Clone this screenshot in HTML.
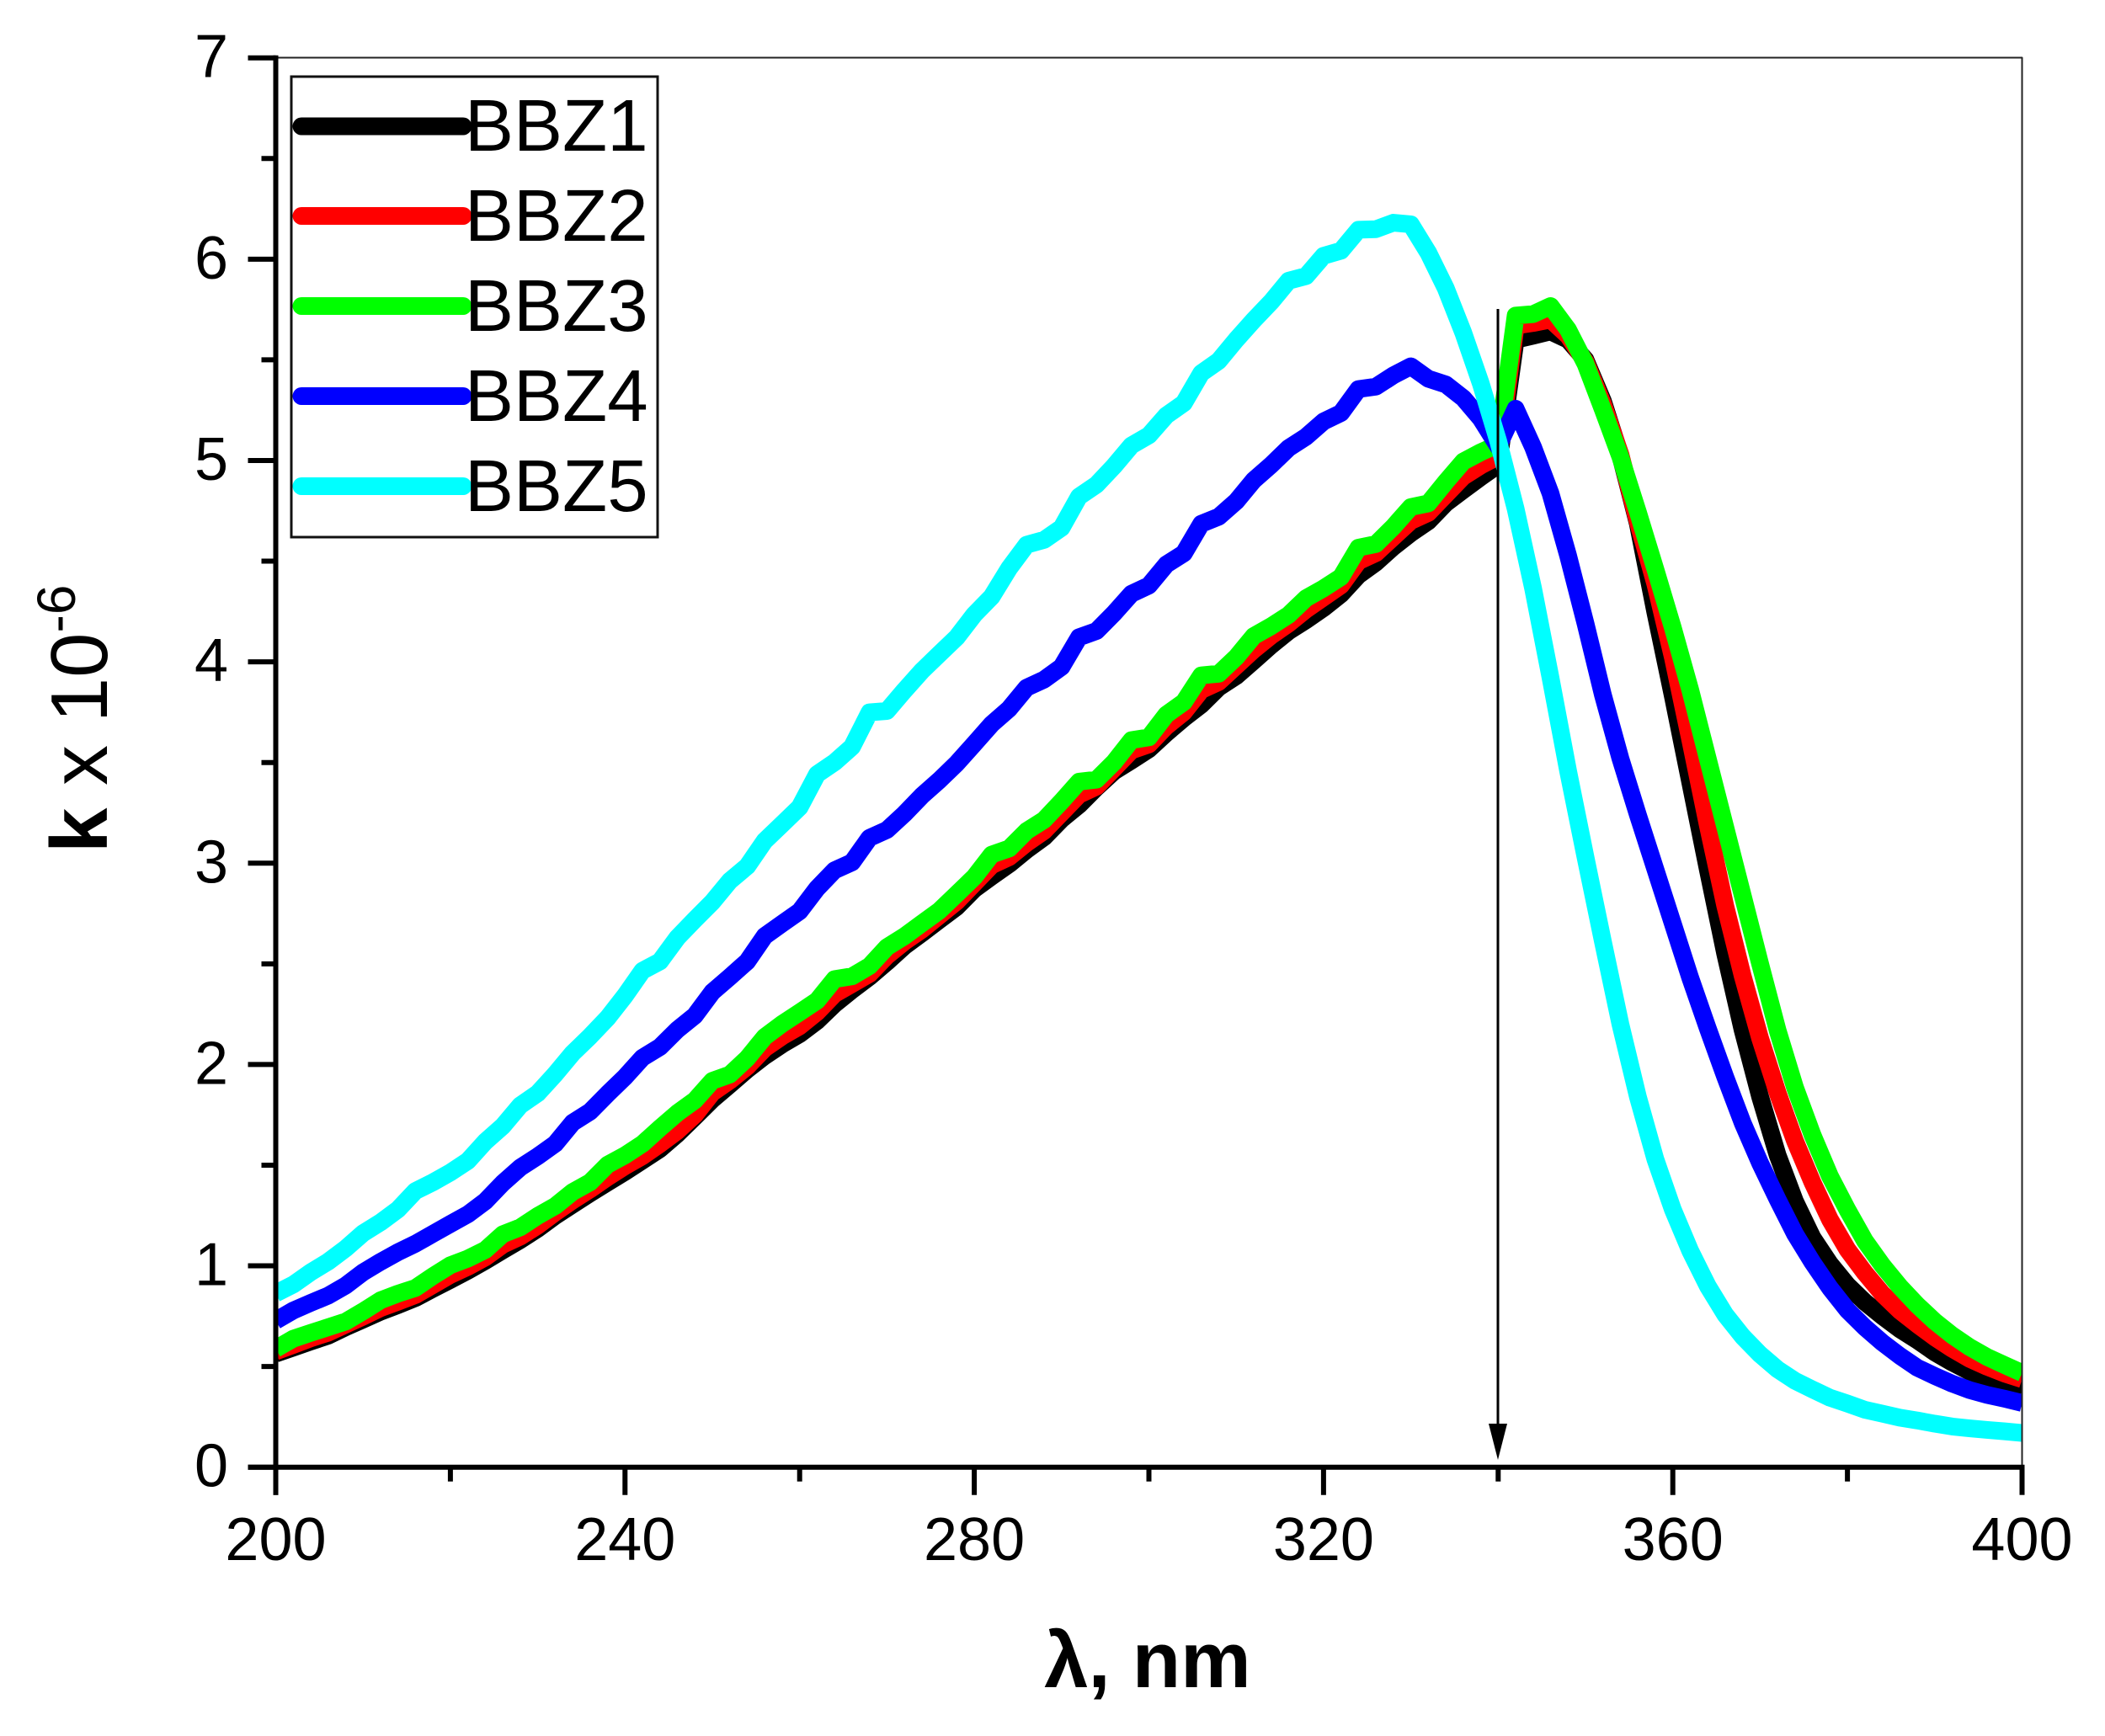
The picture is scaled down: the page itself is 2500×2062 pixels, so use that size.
<!DOCTYPE html>
<html lang="en">
<head>
<meta charset="utf-8">
<title>k vs wavelength for BBZ1-BBZ5</title>
<style>
  html, body { margin: 0; padding: 0; background: #fff; }
  svg { display: block; font-family: "Liberation Sans", Arial, sans-serif; }
</style>
</head>
<body>
<svg id="chart" xmlns="http://www.w3.org/2000/svg" width="2500" height="2062" viewBox="0 0 2500 2062">
  <defs>
    <clipPath id="plot-clip"><rect x="327.5" y="69" width="2074" height="1674"/></clipPath>
  </defs>
  <rect x="0" y="0" width="2500" height="2062" fill="#fff"/>
  <g id="series-layer" clip-path="url(#plot-clip)"></g>
  <line x1="327" y1="68.5" x2="2402" y2="68.5" stroke="#222" stroke-width="2"/>
  <line x1="2401.5" y1="68" x2="2401.5" y2="1743" stroke="#222" stroke-width="2"/>
  <g id="axis-layer"></g>

  <g>
    <line x1="1779" y1="367" x2="1779" y2="1700" stroke="#000" stroke-width="3"/>
    <polygon points="1768,1691 1790,1691 1779,1734" fill="#000"/>
  </g>

  <g>
    <rect x="346" y="91" width="435" height="547" fill="none" stroke="#111" stroke-width="3"/>
    <g>
      <line x1="358" y1="150" x2="550" y2="150" stroke="#000" stroke-width="21" stroke-linecap="round"/>
      <text x="552" y="179" font-size="87">BBZ1</text>
    </g>
    <g>
      <line x1="358" y1="256.5" x2="550" y2="256.5" stroke="#ff0000" stroke-width="21" stroke-linecap="round"/>
      <text x="552" y="286" font-size="87">BBZ2</text>
    </g>
    <g>
      <line x1="358" y1="363.5" x2="550" y2="363.5" stroke="#00ff00" stroke-width="21" stroke-linecap="round"/>
      <text x="552" y="393" font-size="87">BBZ3</text>
    </g>
    <g>
      <line x1="358" y1="470.5" x2="550" y2="470.5" stroke="#0000ff" stroke-width="21" stroke-linecap="round"/>
      <text x="552" y="500" font-size="87">BBZ4</text>
    </g>
    <g>
      <line x1="358" y1="577.5" x2="550" y2="577.5" stroke="#00ffff" stroke-width="21" stroke-linecap="round"/>
      <text x="552" y="607" font-size="87">BBZ5</text>
    </g>
  </g>

  <text x="1363" y="2004" font-size="94" font-weight="bold" text-anchor="middle">λ, nm</text>
  <text transform="translate(127,1013) rotate(-90)" font-size="96"><tspan font-weight="bold">k</tspan><tspan> x 10</tspan><tspan font-size="64" dy="-38">-6</tspan></text>
</svg>

<script>
const wavelengths = [200,202,204,206,208,210,212,214,216,218,220,222,224,226,228,230,232,234,236,238,240,242,244,246,248,250,252,254,256,258,260,262,264,266,268,270,272,274,276,278,280,282,284,286,288,290,292,294,296,298,300,302,304,306,308,310,312,314,316,318,320,322,324,326,328,330,332,334,336,338,340,342,344,346,348,350,352,354,356,358,360,362,364,366,368,370,372,374,376,378,380,382,384,386,388,390,392,394,396,398,400];

const bbz1 = [.564,.594,.624,.653,.695,.733,.772,.805,.840,.886,.930,.976,1.025,1.077,1.128,1.184,1.248,1.304,1.360,1.414,1.467,1.523,1.58,1.655,1.74,
1.826,1.90,1.975,2.042,2.100,2.151,2.216,2.300,2.370,2.435,2.509,2.588,2.652,2.718,2.783,2.871,2.934,2.995,3.066,3.129,3.218,3.289,3.376,3.456,3.510,
3.566,3.646,3.720,3.787,3.873,3.929,4.005,4.082,4.152,4.207,4.267,4.336,4.430,4.493,4.571,4.639,4.698,4.788,4.853,4.917,4.978,
5.60,5.62,5.641,5.60,5.50,5.295,5.024,4.685,4.246,3.83,3.40,2.97,2.55,2.17,1.84,1.55,1.32,1.14,1.01,.904,.82,.75,.685,.63,.57,.52,.475,.44,.41,.38];

const bbz2 = [.575,.607,.640,.668,.708,.748,.790,.822,.855,.905,.955,.995,1.042,1.105,1.145,1.200,1.265,1.325,1.380,1.440,1.495,1.545,1.605,1.670,1.750,
1.86,1.92,1.99,2.08,2.14,2.19,2.26,2.35,2.40,2.45,2.54,2.61,2.67,2.74,2.81,2.90,2.99,3.03,3.10,3.16,3.25,3.34,3.38,3.47,3.56,
3.59,3.68,3.75,3.86,3.90,3.98,4.06,4.13,4.19,4.26,4.32,4.38,4.50,4.54,4.62,4.70,4.74,4.83,4.92,4.975,5.02,
5.67,5.683,5.70,5.62,5.49,5.28,5.03,4.695,4.386,4.023,3.612,3.19,2.789,2.44,2.13,1.86,1.62,1.414,1.23,1.081,.965,.861,.777,.709,.645,.588,.538,.499,.465,.437];

const bbz3 = [.588,.638,.667,.695,.723,.774,.829,.862,.890,.949,1.003,1.036,1.079,1.157,1.191,1.248,1.297,1.367,1.415,1.502,1.549,1.606,1.684,1.759,1.822,
1.919,1.950,2.031,2.137,2.202,2.259,2.317,2.424,2.438,2.489,2.583,2.637,2.701,2.764,2.847,2.931,3.043,3.073,3.160,3.215,3.307,3.405,3.415,3.501,3.611,
3.625,3.738,3.800,3.933,3.941,4.023,4.128,4.177,4.233,4.316,4.365,4.421,4.567,4.585,4.671,4.769,4.787,4.894,4.995,5.041,5.08,
5.72,5.727,5.767,5.65,5.48,5.252,5.017,4.744,4.46,4.17,3.86,3.52,3.18,2.84,2.50,2.17,1.885,1.65,1.445,1.278,1.124,1.003,.897,.805,.724,.655,.596,.547,.507,.468];

const bbz4 = [.728,.778,.816,.852,.902,.968,1.020,1.068,1.110,1.159,1.208,1.256,1.321,1.411,1.488,1.544,1.606,1.711,1.766,1.854,1.938,2.034,2.087,2.173,2.243,
2.36,2.435,2.512,2.638,2.700,2.761,2.875,2.965,3.004,3.126,3.165,3.245,3.335,3.412,3.496,3.593,3.691,3.767,3.872,3.912,3.975,4.122,4.153,4.241,4.338,
4.379,4.484,4.539,4.686,4.721,4.797,4.902,4.978,5.062,5.118,5.194,5.236,5.355,5.367,5.423,5.468,5.406,5.378,5.31,5.208,5.07,
5.257,5.066,4.836,4.529,4.191,3.835,3.52,3.24,2.97,2.70,2.43,2.180,1.939,1.71,1.51,1.33,1.158,1.017,.890,.780,.694,.619,.553,.494,.453,.415,.383,.359,.340,.319];

const bbz5 = [.863,.907,.968,1.021,1.086,1.162,1.216,1.280,1.372,1.415,1.464,1.521,1.617,1.694,1.797,1.857,1.952,2.056,2.140,2.231,2.342,2.466,2.512,2.63,2.72,
2.807,2.912,2.985,3.111,3.194,3.278,3.442,3.501,3.578,3.749,3.756,3.858,3.955,4.039,4.122,4.235,4.324,4.465,4.582,4.606,4.666,4.821,4.880,4.972,5.075,
5.125,5.224,5.285,5.434,5.495,5.600,5.697,5.788,5.893,5.916,6.017,6.042,6.146,6.149,6.181,6.173,6.032,5.855,5.635,5.384,5.097,
4.76,4.365,3.92,3.46,3.03,2.61,2.20,1.84,1.53,1.28,1.074,.900,.758,.649,.560,.486,.429,.386,.345,.316,.285,.266,.246,.232,.216,.202,.193,.185,.178,.170];

const seriesNames = ["bbz1","bbz2","bbz3","bbz4","bbz5"];
const seriesColors = ["#000000","#ff0000","#00ff00","#0000ff","#00ffff"];
const seriesValues = [bbz1,bbz2,bbz3,bbz4,bbz5];

const xMajorTicks = [200,240,280,320,360,400];
const xMinorTicks = [220,260,300,340,380];
const yMajorTicks = [0,1,2,3,4,5,6,7];
const yMinorTicks = [0.5,1.5,2.5,3.5,4.5,5.5,6.5];

const NS = "http://www.w3.org/2000/svg";
const X0 = 327.5, X1 = 2401.5, Y0 = 1742.7, Y1 = 68.7;
function xScale(v) { return X0 + (v - 200) / 200 * (X1 - X0); }
function yScale(v) { return Y0 - v / 7 * (Y0 - Y1); }

function makeLine(x1, y1, x2, y2, width) {
  const l = document.createElementNS(NS, "line");
  l.setAttribute("x1", x1);
  l.setAttribute("y1", y1);
  l.setAttribute("x2", x2);
  l.setAttribute("y2", y2);
  l.setAttribute("stroke", "#000");
  l.setAttribute("stroke-width", width);
  return l;
}

const seriesLayer = document.getElementById("series-layer");
seriesValues.forEach(function (vals, i) {
  const p = document.createElementNS(NS, "polyline");
  
  
  p.setAttribute("points", vals.map(function (v, k) {
    return xScale(wavelengths[k]).toFixed(2) + "," + yScale(v).toFixed(2);
  }).join(" "));
  p.setAttribute("fill", "none");
  p.setAttribute("stroke", seriesColors[i]);
  p.setAttribute("stroke-width", "21");
  p.setAttribute("stroke-linejoin", "round");
  seriesLayer.appendChild(p);
});

const axisLayer = document.getElementById("axis-layer");

const yAxisLine = makeLine(X0, Y1 - 3, X0, Y0 + 33, 6);


axisLayer.appendChild(yAxisLine);

const xAxisLine = makeLine(X0 - 33, Y0, X1 + 3, Y0, 6);


axisLayer.appendChild(xAxisLine);

xMajorTicks.forEach(function (t) {
  const tick = makeLine(xScale(t), Y0, xScale(t), Y0 + 33, 6);
  
  
  axisLayer.appendChild(tick);
  const label = document.createElementNS(NS, "text");
  
  
  label.setAttribute("x", xScale(t));
  label.setAttribute("y", 1853);
  label.setAttribute("font-size", "72");
  label.setAttribute("text-anchor", "middle");
  label.textContent = String(t);
  axisLayer.appendChild(label);
});

xMinorTicks.forEach(function (t) {
  const tick = makeLine(xScale(t), Y0, xScale(t), Y0 + 17, 6);
  
  
  axisLayer.appendChild(tick);
});

yMajorTicks.forEach(function (t) {
  const tick = makeLine(X0 - 33, yScale(t), X0, yScale(t), 6);
  
  
  axisLayer.appendChild(tick);
  const label = document.createElementNS(NS, "text");
  
  
  label.setAttribute("x", 271);
  label.setAttribute("y", yScale(t) + 23);
  label.setAttribute("font-size", "72");
  label.setAttribute("text-anchor", "end");
  label.textContent = String(t);
  axisLayer.appendChild(label);
});

yMinorTicks.forEach(function (t) {
  const tick = makeLine(X0 - 17, yScale(t), X0, yScale(t), 6);
  
  
  axisLayer.appendChild(tick);
});
</script>
</body>
</html>
